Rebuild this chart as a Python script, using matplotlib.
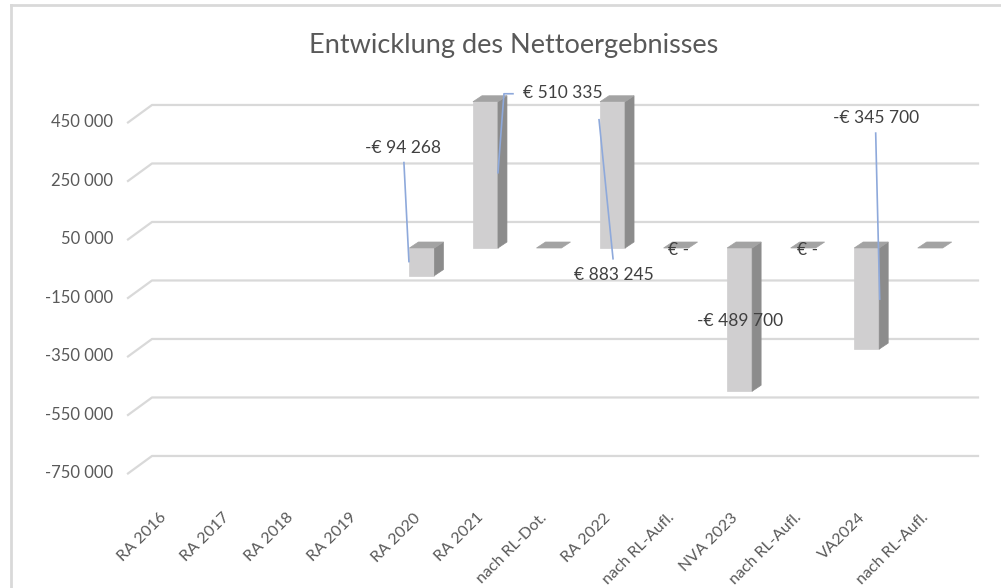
import numpy as np
import matplotlib
matplotlib.use('Agg')
import matplotlib.pyplot as plt
from matplotlib.patches import Polygon
from matplotlib.lines import Line2D
from matplotlib.transforms import IdentityTransform

# ---------------- data ----------------
categories = ['RA 2016', 'RA 2017', 'RA 2018', 'RA 2019', 'RA 2020', 'RA 2021',
              'nach RL-Dot.', 'RA 2022', 'nach RL-Aufl.', 'NVA 2023',
              'nach RL-Aufl.', 'VA2024', 'nach RL-Aufl.']
values = [np.nan, np.nan, np.nan, np.nan, -94268, 510335, 0, 883245, 0,
          -489700, 0, -345700, 0]
value_labels = [None, None, None, None, '-€ 94 268', '€ 510 335', None,
                '€ 883 245', '€ -', '-€ 489 700', '€ -', '-€ 345 700', None]
yticks = [450000, 250000, 50000, -150000, -350000, -550000, -750000]
title = 'Entwicklung des Nettoergebnisses'

# ---------------- style ----------------
plt.rcParams['font.family'] = ['Lato', 'DejaVu Sans']
W, H = 1001, 588
FRONT, SIDE, TOP = '#D0CFD0', '#8C8C8C', '#A3A3A3'
GRID = '#D9D9D9'
LEADER = '#8EA9DB'
BAR_DX, BAR_DY = -16, 11.4      # bar front plane vs back wall (px, y down)
DEP_X, DEP_Y = 9, 6             # bar depth (px)
HALF_W = 12.5
STUB_DX, STUB_DY = -24, 17.5

# manually moved data labels (offset from bar end, px) and leader lines
label_pos = {4: (-19, -128), 5: (77, -9), 7: (1.5, 173), 8: (2, 2),
             9: (0, -70), 10: (4, 2), 11: (9, -231)}
leaders = {4: [(-18, -113), (-13, -14)],
           5: [(12.5, 71), (18.5, -8), (27.5, -8)],
           7: [(0.5, 157), (-13.5, 18)],
           11: [(9, -216), (13, -50)]}

fig = plt.figure(figsize=(W / 100, H / 100), dpi=100)
fig.patch.set_facecolor('white')
ax = fig.add_axes([152 / W, (H - 470.6) / H, 826 / W, 380.25 / H])
ax.set_xlim(-0.5, len(categories) - 0.5)
ax.set_ylim(-800000, 500000)
ax.axis('off')
ID = IdentityTransform()


def pt(x, y, dx=0, dy=0):
    """data -> display px, offsets in image direction (y down)"""
    X, Y = ax.transData.transform((x, y))
    return X + dx, Y - dy


def poly(pts, color, z):
    fig.add_artist(Polygon(pts, closed=True, facecolor=color, edgecolor=color,
                           lw=0.5, transform=ID, zorder=z))


def line(pts, color, lw, z):
    xs, ys = zip(*pts)
    fig.add_artist(Line2D(xs, ys, color=color, lw=lw, transform=ID, zorder=z))


# chart frame (only top and left edges visible)
line([(11, H - 4.5), (W, H - 4.5)], GRID, 2, 0)
line([(11, 0), (11, H - 4.5)], GRID, 2, 0)

# gridlines on back wall + perspective stubs + tick labels
x0, x1 = ax.get_xlim()
for v in yticks:
    a = pt(x0, v)
    b = pt(x1, v)
    c = pt(x0, v, STUB_DX, STUB_DY)
    line([c, a, b], GRID, 1.6, 1)
    tx, ty = pt(x0, v, -39, STUB_DY)
    fig.text(tx, ty, f'{v:,}'.replace(',', ' '), transform=ID, ha='right',
             va='center', fontsize=12, color='#595959')

# 3D columns
ymax = ax.get_ylim()[1]
for i, v in enumerate(values):
    if np.isnan(v):
        continue
    vv = min(v, ymax)
    l = pt(i, 0, BAR_DX - HALF_W, BAR_DY)
    r = pt(i, 0, BAR_DX + HALF_W, BAR_DY)
    lt = pt(i, vv, BAR_DX - HALF_W, BAR_DY)
    top_y = max(l[1], lt[1])
    bot_y = min(l[1], lt[1])
    fl, fr = l[0], r[0]
    if vv != 0:
        poly([(fl, bot_y), (fr, bot_y), (fr, top_y), (fl, top_y)], FRONT, 3)
        poly([(fr, bot_y), (fr + DEP_X, bot_y + DEP_Y), (fr + DEP_X, top_y + DEP_Y),
              (fr, top_y)], SIDE, 3)
    poly([(fl, top_y), (fr, top_y), (fr + DEP_X, top_y + DEP_Y),
          (fl + DEP_X, top_y + DEP_Y)], TOP, 3)

# data labels with leader lines
for i, txt in enumerate(value_labels):
    if txt is None:
        continue
    vv = min(values[i], ymax)
    ax_, ay_ = pt(i, vv, BAR_DX, BAR_DY)
    dx, dy = label_pos[i]
    fig.text(ax_ + dx, ay_ - dy, txt, transform=ID, ha='center', va='center',
             fontsize=12.5, color='#404040', zorder=5)
    if i in leaders:
        line([(ax_ + px, ay_ - py) for px, py in leaders[i]], LEADER, 1.2, 4)

# category labels
for i, c in enumerate(categories):
    tx, ty = pt(i, ax.get_ylim()[0], BAR_DX + 1, 40)
    fig.text(tx, ty, c, transform=ID, ha='right', va='top', rotation=45,
             fontsize=11.5, color='#595959')

fig.text(514, H - 45, title, transform=ID, ha='center', va='center',
         fontsize=19.5, color='#595959')

fig.savefig('out.png', dpi=100)
